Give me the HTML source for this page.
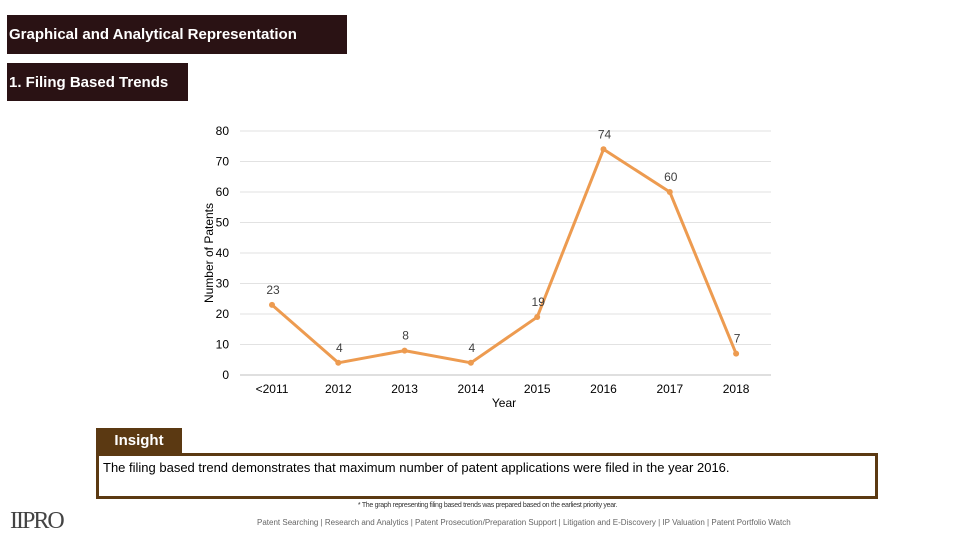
<!DOCTYPE html>
<html><head><meta charset="utf-8"><style>
body{margin:0;width:960px;height:540px;background:#fff;position:relative;overflow:hidden;font-family:"Liberation Sans",sans-serif}
.hdr{position:absolute;background:#2a1214;color:#fff;font-weight:bold;font-size:15px;box-sizing:border-box;padding-left:2px;display:flex;align-items:center}
</style></head><body>
<div class="hdr" style="left:7px;top:15px;width:340px;height:39px">Graphical and Analytical Representation</div>
<div class="hdr" style="left:7px;top:63px;width:181px;height:38px">1. Filing Based Trends</div>
<svg id="chart" width="960" height="420" style="position:absolute;left:0;top:0"></svg>
<div style="position:absolute;left:96px;top:428px;width:86px;height:26px;background:#5b3912;color:#fff;font-weight:bold;font-size:15px;line-height:26px;text-align:center">Insight</div>
<div style="position:absolute;left:96px;top:453px;width:782px;height:46px;box-sizing:border-box;border:3px solid #5b3912;font-size:13px;padding:4px 0 0 4px;color:#000">The filing based trend demonstrates that maximum number of patent applications were filed in the year 2016.</div>
<div style="position:absolute;left:0;width:960px;top:502px;text-align:center;font-size:7px;color:#333;letter-spacing:-0.3px;padding-left:15px;box-sizing:border-box">* The graph representing filing based trends was prepared based on the earliest priority year.</div>
<div style="position:absolute;left:10px;top:508px;font-family:'Liberation Serif',serif;font-size:24px;color:#444;letter-spacing:-2px">IIPRO</div>
<div style="position:absolute;left:257px;top:518px;font-size:8px;color:#666">Patent Searching | Research and Analytics | Patent Prosecution/Preparation Support | Litigation and E-Discovery | IP Valuation | Patent Portfolio Watch</div>
<script>
const categories=["<2011","2012","2013","2014","2015","2016","2017","2018"];
const values=[23,4,8,4,19,74,60,7];
const yTicks=[0,10,20,30,40,50,60,70,80];
const ns="http://www.w3.org/2000/svg";
const svg=document.getElementById('chart');
const x0=272,dx=66.3,yb=375,yt=131,yMax=80;
const X=i=>x0+i*dx;
const Y=v=>yb-(v/yMax)*(yb-yt);
function el(t,a,txt){const e=document.createElementNS(ns,t);for(const k in a)e.setAttribute(k,a[k]);if(txt!==undefined)e.textContent=txt;svg.appendChild(e);return e;}
yTicks.forEach(t=>{
const g=el('line',{x1:240,x2:771,y1:Y(t),y2:Y(t),stroke:t===0?'#bfbfbf':'#e2e2e2','stroke-width':1});


const l=el('text',{x:229,y:Y(t)+4,'text-anchor':'end','font-size':12,fill:'#000'},t);


});
categories.forEach((c,i)=>{
const l=el('text',{x:X(i),y:393,'text-anchor':'middle','font-size':12,fill:'#000'},c);


});
const xt=el('text',{x:504,y:407,'text-anchor':'middle','font-size':12},'Year');


const yt2=el('text',{x:0,y:0,'text-anchor':'middle','font-size':12,transform:'translate(213,253) rotate(-90)'},'Number of Patents');


const line=el('polyline',{points:values.map((v,i)=>X(i)+','+Y(v)).join(' '),fill:'none',stroke:'#ed9b50','stroke-width':3,'stroke-linejoin':'round'});


values.forEach((v,i)=>{
const p=el('circle',{cx:X(i),cy:Y(v),r:3,fill:'#ed9b50'});


const l=el('text',{x:X(i)+1,y:Y(v)-11,'text-anchor':'middle','font-size':12,fill:'#404040'},v);


});
</script>
</body></html>
